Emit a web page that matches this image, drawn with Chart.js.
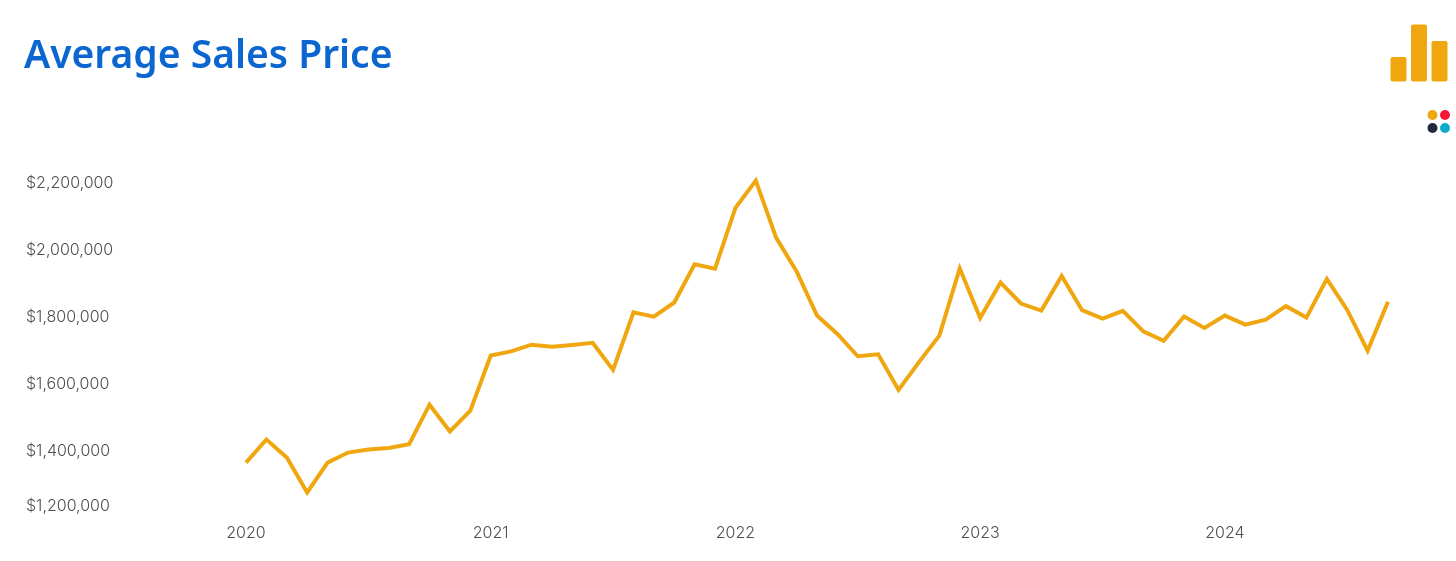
<!DOCTYPE html>
<html>
<head>
<meta charset="utf-8">
<title>Average Sales Price</title>
<script src="https://cdn.jsdelivr.net/npm/chart.js@4"></script>
<style>
    html, body { margin: 0; padding: 0; background: #fff; }
    #wrap { position: relative; width: 1456px; height: 561px; overflow: hidden; }
    #logo { position: absolute; left: 1380px; top: 15px; }
</style>
</head>
<body>
<div id="wrap">
    <canvas id="graph" width="1456" height="561"></canvas>
    <svg id="logo" width="76" height="125" viewBox="0 0 76 125">
        <rect x="10.5" y="42" width="16" height="24.5" rx="2" fill="#F0A70F"/>
        <rect x="31" y="9.5" width="16" height="57" rx="2" fill="#F0A70F"/>
        <rect x="51.5" y="26" width="16" height="40.5" rx="2" fill="#F0A70F"/>
        <circle cx="52.5" cy="100" r="5" fill="#F0A70F"/>
        <circle cx="65" cy="100" r="5" fill="#F5173A"/>
        <circle cx="52.5" cy="113" r="5" fill="#22293B"/>
        <circle cx="65" cy="113" r="5" fill="#0FACC9"/>
    </svg>
</div>
<script>
const months = [
    '2020-01', '2020-02', '2020-03', '2020-04', '2020-05', '2020-06', '2020-07', '2020-08', '2020-09', '2020-10', '2020-11', '2020-12',
    '2021-01', '2021-02', '2021-03', '2021-04', '2021-05', '2021-06', '2021-07', '2021-08', '2021-09', '2021-10', '2021-11', '2021-12',
    '2022-01', '2022-02', '2022-03', '2022-04', '2022-05', '2022-06', '2022-07', '2022-08', '2022-09', '2022-10', '2022-11', '2022-12',
    '2023-01', '2023-02', '2023-03', '2023-04', '2023-05', '2023-06', '2023-07', '2023-08', '2023-09', '2023-10', '2023-11', '2023-12',
    '2024-01', '2024-02', '2024-03', '2024-04', '2024-05', '2024-06', '2024-07', '2024-08', '2024-09'
];

const prices = [
    1364000, 1433000, 1379000, 1275000, 1364000, 1394000, 1403000, 1407500, 1419000, 1537000, 1457000, 1519000,
    1684000, 1696000, 1716000, 1710000, 1715500, 1721500, 1641000, 1813000, 1800000, 1842000, 1956000, 1943000,
    2124500, 2206000, 2035000, 1935000, 1803000, 1748000, 1681500, 1687500, 1581000, 1664000, 1743000, 1944000,
    1796000, 1901500, 1839000, 1818000, 1921500, 1819000, 1794000, 1817000, 1756000, 1727500, 1800000, 1766000,
    1803000, 1776000, 1791000, 1831000, 1797000, 1912500, 1820000, 1698000, 1844000
];

const yTicks = [2200000, 2000000, 1800000, 1600000, 1400000, 1200000];
const yMin = 1236000;
const yMax = 2300000;

const graphContext = document.querySelector('#graph');

// y labels start 2px right of the title
const nudgeLabels = {
    id: 'nudgeLabels',
    afterLayout: (chart) => { chart.scales.y.left += 2; }
};

new Chart(graphContext, {
    type: 'line',
    data: {
        labels: months,
        datasets: [
            {
                label: 'Average Sales Price',
                data: prices,
                borderColor: '#F0A70F',
                borderWidth: 4,
                pointRadius: 0,
                tension: 0
            }
        ]
    },
    plugins: [nudgeLabels],
    options: {
        responsive: false,
        animation: false,
        layout: {
            padding: { left: 24, right: 68, top: 0, bottom: 0 }
        },
        plugins: {
            legend: { display: false },
            tooltip: { enabled: false },
            title: {
                display: true,
                text: 'Average Sales Price',
                align: 'start',
                color: '#0B66D0',
                font: { family: '"Noto Sans"', size: 39, weight: '600', lineHeight: 1.2 },
                padding: { top: 33, bottom: 69.3 }
            }
        },
        scales: {
            x: {
                offset: false,
                grid: { display: false },
                border: { display: false },
                afterFit: (scale) => { scale.height = 55.5; },
                ticks: {
                    autoSkip: false,
                    maxRotation: 0,
                    padding: 10,
                    color: '#505050',
                    font: { family: 'Inter', size: 16, weight: '300' },
                    callback: function (value) {
                        const label = this.getLabelForValue(value);
                        return label.endsWith('-01') ? label.slice(0, 4) : '';
                    }
                }
            },
            y: {
                min: yMin,
                max: yMax,
                grid: { display: false },
                border: { display: false },
                afterFit: (scale) => { scale.width = 222; },
                // the lowest label sits on the axis floor in the source chart
                afterBuildTicks: (scale) => {
                    scale.ticks = yTicks.map((v) => ({ value: Math.max(v, yMin) }));
                },
                ticks: {
                    crossAlign: 'far',
                    labelOffset: 1,
                    color: '#505050',
                    font: { family: 'Inter', size: 16, weight: '300' },
                    callback: (value, index) => '$' + yTicks[index].toLocaleString('en-US')
                }
            }
        }
    }
});
</script>
</body>
</html>
